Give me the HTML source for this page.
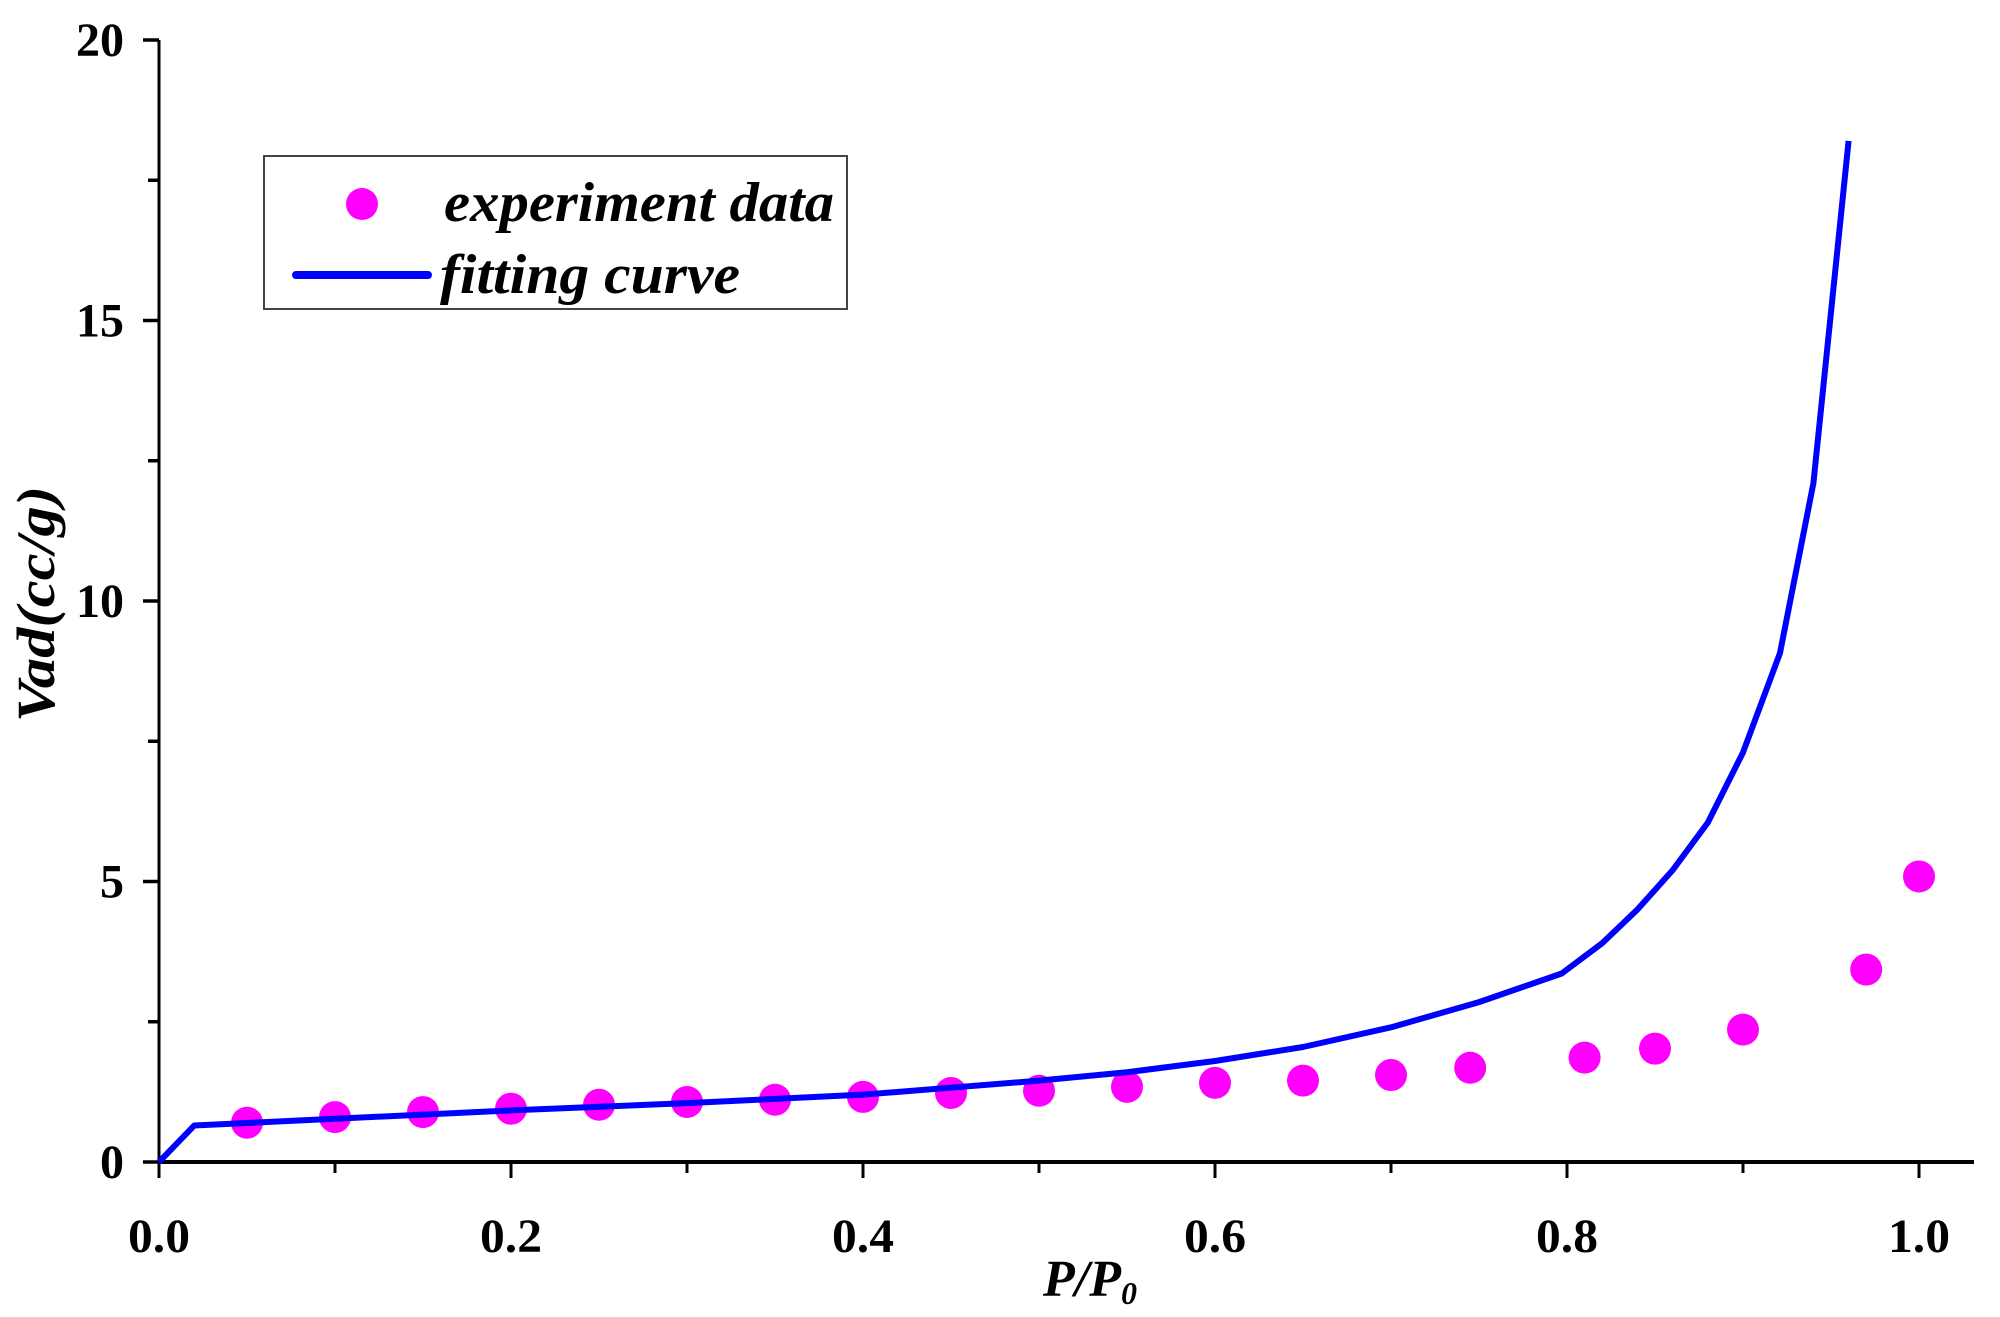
<!DOCTYPE html>
<html><head><meta charset="utf-8"><style>
html,body{margin:0;padding:0;background:#fff;}
svg{display:block;font-family:"Liberation Serif",serif;}
</style></head><body>
<svg id="chart" width="2000" height="1317" viewBox="0 0 2000 1317">
<g id="axes"></g>
<g id="series"></g>
<g>
<rect x="264" y="156" width="583" height="153" fill="#fff" stroke="#444" stroke-width="2"/>
<circle cx="362" cy="204" r="16" fill="#ff00ff"/>
<text x="444" y="221" font-size="56" font-style="italic" font-weight="bold" textLength="390" lengthAdjust="spacingAndGlyphs">experiment data</text>
<line x1="296" y1="275" x2="428" y2="275" stroke="#0000ff" stroke-width="8" stroke-linecap="round"/>
<text x="440" y="293" font-size="56" font-style="italic" font-weight="bold" textLength="300" lengthAdjust="spacingAndGlyphs">fitting curve</text>
</g>
<text x="0" y="0" transform="translate(54,604) rotate(-90)" text-anchor="middle" font-size="54" font-style="italic" font-weight="bold" textLength="236" lengthAdjust="spacingAndGlyphs">Vad(cc/g)</text>
<text x="1090" y="1296" text-anchor="middle" font-size="52" font-style="italic" font-weight="bold">P/P<tspan font-size="32" dy="8">0</tspan></text>
</svg>
<script>
const expX=[0.05,0.1,0.15,0.2,0.25,0.3,0.35,0.4,0.45,0.5,0.55,0.6,0.65,0.7,0.745,0.81,0.85,0.9,0.97,1.0];
const expY=[0.70,0.80,0.89,0.95,1.02,1.07,1.11,1.16,1.23,1.27,1.34,1.41,1.45,1.55,1.68,1.86,2.02,2.36,3.43,5.09];
const fitX=[0,0.02,0.1,0.2,0.3,0.4,0.5,0.55,0.6,0.65,0.7,0.75,0.797,0.82,0.84,0.86,0.88,0.9,0.921,0.94,0.96];
const fitY=[0,0.65,0.77,0.92,1.05,1.2,1.45,1.6,1.8,2.05,2.4,2.85,3.36,3.9,4.5,5.2,6.05,7.3,9.07,12.1,18.2];
const xTicks=[0,0.2,0.4,0.6,0.8,1.0];
const xTickLabels=["0.0","0.2","0.4","0.6","0.8","1.0"];
const yTicks=[0,5,10,15,20];
const yTickLabels=["0","5","10","15","20"];
const X0=159,X1=1919,Y0=1162,Y20=40;
const sx=v=>X0+(X1-X0)*v;
const sy=v=>Y0-(Y0-Y20)*v/20;
const NS="http://www.w3.org/2000/svg";
function mk(tag,attrs,parent){const e=document.createElementNS(NS,tag);for(const k in attrs)e.setAttribute(k,attrs[k]);parent.appendChild(e);return e;}
const ax=document.getElementById('axes'),se=document.getElementById('series');
let l=mk('line',{x1:sx(0),y1:sy(20),x2:sx(0),y2:sy(0)+1,stroke:'#000','stroke-width':3},ax);


l=mk('line',{x1:sx(0)-1,y1:sy(0),x2:1974,y2:sy(0),stroke:'#000','stroke-width':4},ax);


for(let i=0;i<=10;i++){const v=i/10;const major=i%2==0;
 const t=mk('line',{x1:sx(v),y1:sy(0),x2:sx(v),y2:sy(0)+(major?16:11),stroke:'#000','stroke-width':3},ax);
 
 }
for(let i=0;i<=8;i++){const v=i*2.5;const major=i%2==0;
 const t=mk('line',{x1:sx(0),y1:sy(v),x2:sx(0)-(major?16:11),y2:sy(v),stroke:'#000','stroke-width':3.5},ax);
 
 }
xTicks.forEach((v,i)=>{const t=mk('text',{x:sx(v),y:1252,'text-anchor':'middle','font-size':48,'font-weight':'bold',textLength:62,lengthAdjust:'spacingAndGlyphs'},ax);t.textContent=xTickLabels[i];
 
 });
yTicks.forEach((v,i)=>{const t=mk('text',{x:124,y:sy(v)+16,'text-anchor':'end','font-size':48,'font-weight':'bold'},ax);t.textContent=yTickLabels[i];
 
 });
expX.forEach((v,i)=>{const c=mk('circle',{cx:sx(v),cy:sy(expY[i]),r:16,fill:'#ff00ff'},se);
 
 });
const p=mk('polyline',{points:fitX.map((v,i)=>sx(v)+','+sy(fitY[i])).join(' '),fill:'none',stroke:'#0000ff','stroke-width':6,'stroke-linejoin':'round'},se);


</script>
</body></html>
